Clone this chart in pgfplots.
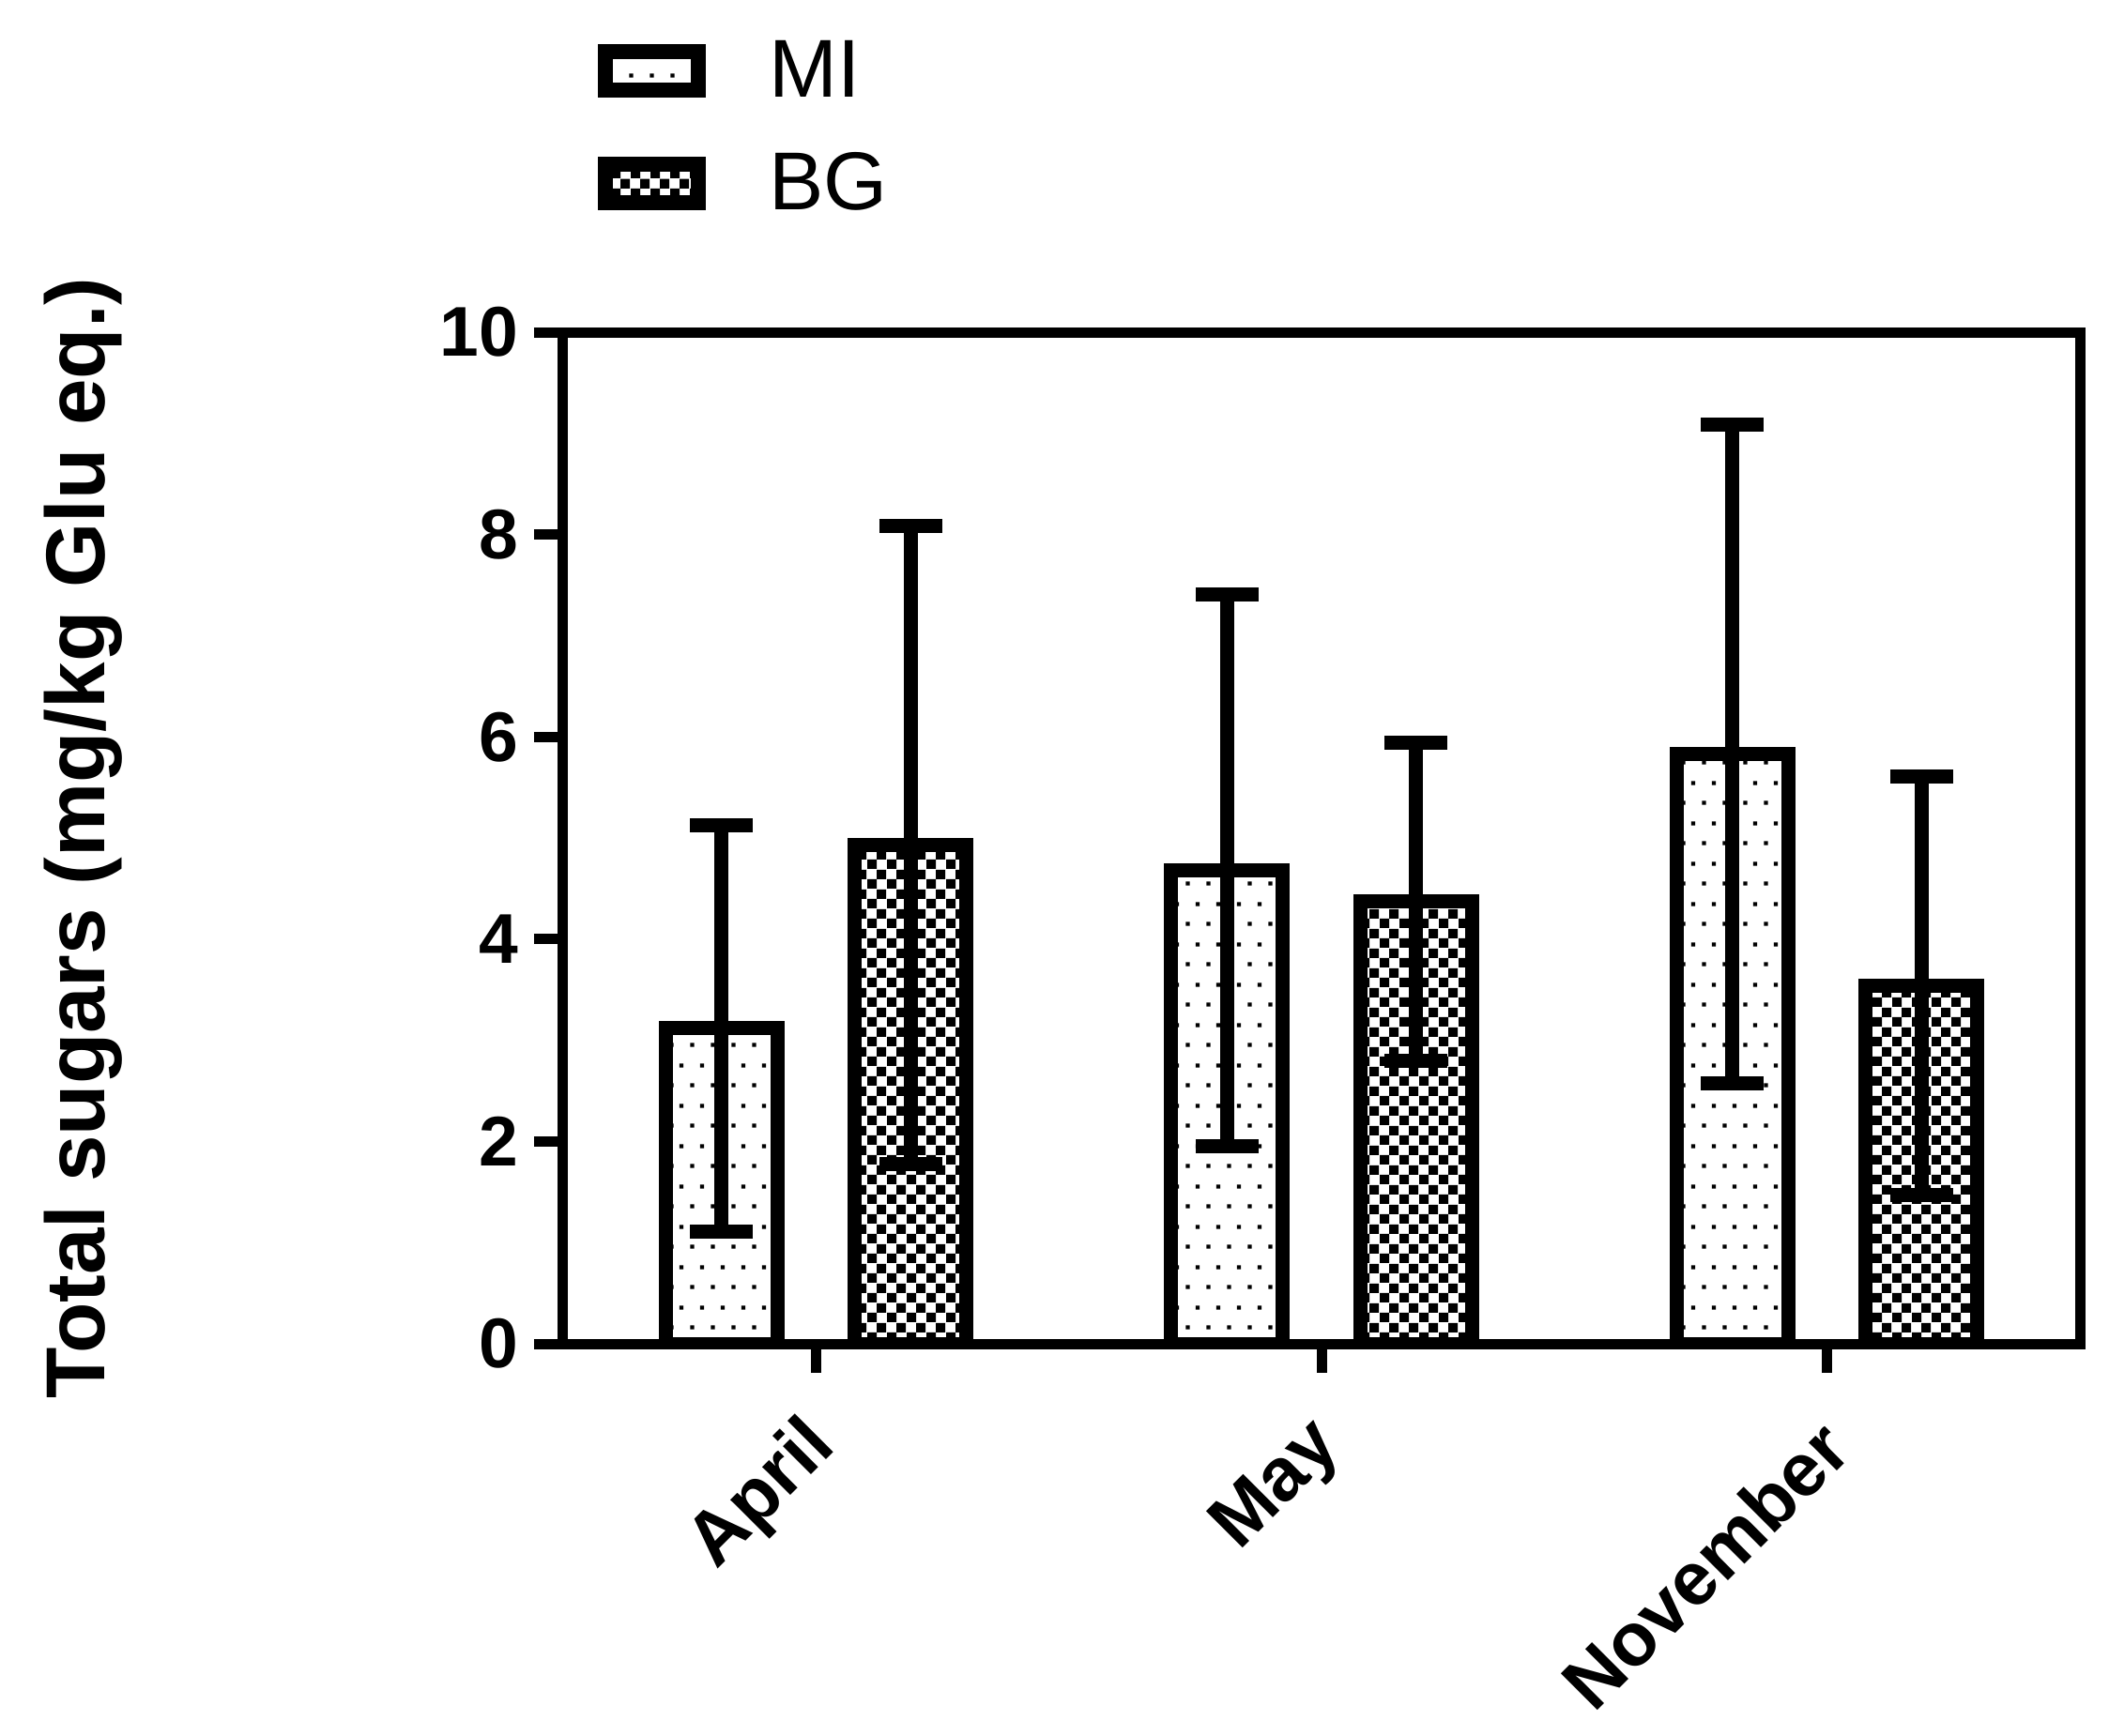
\documentclass[border=0pt]{standalone}
\usepackage{fontspec}
\setmainfont{Liberation Sans}
\usepackage{pgfplots}
\usepackage{pgfplotstable}
\pgfplotsset{compat=1.18}
\usetikzlibrary{patterns.meta}

\pgfdeclarepattern{
  name=midots, type=uncolored,
  bottom left={\pgfpoint{0pt}{0pt}}, top right={\pgfpoint{4.3pt}{8.6pt}},
  tile size={\pgfpoint{4.3pt}{8.6pt}},
  code={
    \pgfpathrectangle{\pgfpoint{0.7pt}{0.7pt}}{\pgfpoint{0.85pt}{0.85pt}}
    \pgfpathrectangle{\pgfpoint{2.85pt}{5.0pt}}{\pgfpoint{0.85pt}{0.85pt}}
    \pgfusepath{fill}
  }
}
\pgfdeclarepattern{
  name=bgcheck, type=uncolored,
  bottom left={\pgfpoint{0pt}{0pt}}, top right={\pgfpoint{4.2pt}{4.2pt}},
  tile size={\pgfpoint{4.2pt}{4.2pt}},
  code={
    \pgfpathrectangle{\pgfpoint{0pt}{0pt}}{\pgfpoint{2.1pt}{2.1pt}}
    \pgfpathrectangle{\pgfpoint{2.1pt}{2.1pt}}{\pgfpoint{2.1pt}{2.1pt}}
    \pgfusepath{fill}
  }
}

\pgfplotstableread{
x mi mierr bg bgerr
0 3.12 2.01 4.93 3.15
1 4.68 2.73 4.37 1.57
2 5.83 3.26 3.54 2.07
}\data

\begin{document}
\begin{tikzpicture}
\begin{axis}[
  scale only axis, width=323.2pt, height=215.6pt,
  xmin=-0.5, xmax=2.5, ymin=0, ymax=10,
  enlargelimits=false,
  xtick={0,1,2}, xticklabels={April,May,November},
  ytick={0,2,4,6,8,10},
  axis line style={line width=2.2pt, black},
  major tick style={line width=2.2pt, black},
  tick align=outside, major tick length=6.2pt,
  xtick pos=left, ytick pos=left,
  /pgf/number format/assume math mode=true,
  yticklabel style={font=\bfseries\fontsize{15}{18}\selectfont, inner sep=0pt},
  yticklabel shift=3.2pt,
  xticklabel style={font=\bfseries\fontsize{16}{19}\selectfont, rotate=45, anchor=east, inner sep=0pt, xshift=2.6pt},
  xticklabel shift=15pt,
  ylabel={Total sugars (mg/kg Glu eq.)},
  every axis y label/.style={at={(axis description cs:-0.302,0.5)}, rotate=90, anchor=base, font=\bfseries\fontsize{17.8}{20}\selectfont},
  legend image code/.code={\draw[#1, line width=3.2pt] (0pt,-3.9pt) rectangle (19.8pt,4.3pt);},
  legend style={at={(0,1)}, anchor=north west, xshift=7.2pt, yshift=64.4pt,
    draw=none, fill=none, inner sep=0pt, row sep=6.3pt,
    font=\fontsize{17.5}{20}\selectfont,
    /tikz/every odd column/.style={column sep=11.5pt}},
  legend cell align=left,
]
\coordinate (O) at (rel axis cs:0,0);
\addplot[ybar, bar width=0.221, bar shift=0pt, draw=black, line width=3pt,
  pattern=midots, pattern color=black,
  error bars/.cd, y dir=both, y explicit,
  error bar style={line width=3pt, black, solid},
  error mark options={rotate=90, line width=3pt, mark size=6.7pt, black}]
  table[x expr=\thisrow{x}-0.187, y=mi, y error=mierr]{\data};
\addlegendentry{MI}
\addplot[ybar, bar width=0.221, bar shift=0pt, draw=black, line width=3pt,
  pattern=bgcheck, pattern color=black,
  error bars/.cd, y dir=both, y explicit,
  error bar style={line width=3pt, black, solid},
  error mark options={rotate=90, line width=3pt, mark size=6.7pt, black}]
  table[x expr=\thisrow{x}+0.187, y=bg, y error=bgerr]{\data};
\addlegendentry{BG}
\end{axis}
\pgfresetboundingbox
\path (O) ++(-120pt,-83.4pt) rectangle ++(449.4pt,369.8pt);
\end{tikzpicture}
\end{document}
